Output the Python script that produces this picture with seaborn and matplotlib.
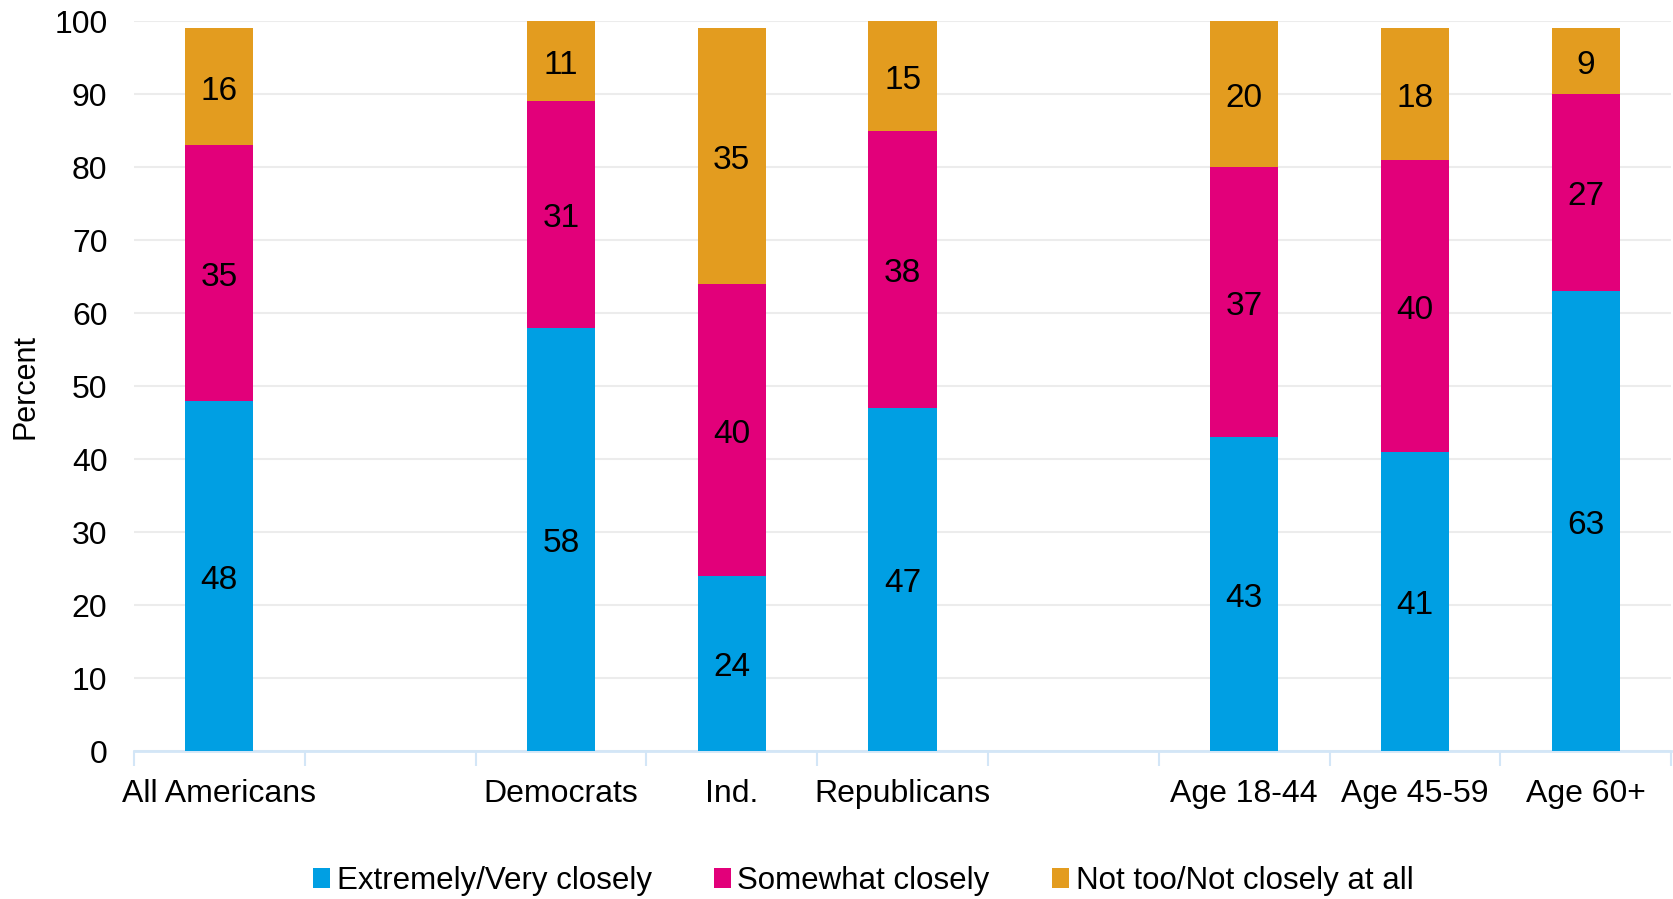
import matplotlib
matplotlib.use("Agg")
import matplotlib.pyplot as plt
import seaborn as sns
import pandas as pd
import numpy as np
from matplotlib.patches import Patch

# Veri
groups = ["All Americans", "gap1", "Democrats", "Ind.", "Republicans", "gap2",
          "Age 18-44", "Age 45-59", "Age 60+"]
shown = ["All Americans", "Democrats", "Ind.", "Republicans",
         "Age 18-44", "Age 45-59", "Age 60+"]
very_closely = [48, 58, 24, 47, 43, 41, 63]
somewhat = [35, 31, 40, 38, 37, 40, 27]
not_closely = [16, 11, 35, 15, 20, 18, 9]
series_names = ["Extremely/Very closely", "Somewhat closely", "Not too/Not closely at all"]
colors = ["#009FE3", "#E2007A", "#E39C1F"]

sns.set_style("white")
plt.rcParams["font.family"] = ["Liberation Sans", "DejaVu Sans"]
plt.rcParams["text.color"] = "black"
plt.rcParams["axes.labelcolor"] = "black"
plt.rcParams["xtick.color"] = "black"
plt.rcParams["ytick.color"] = "black"

df = pd.DataFrame({"group": shown, "v1": very_closely, "v2": somewhat, "v3": not_closely})
df["c1"] = df["v1"]
df["c2"] = df["v1"] + df["v2"]
df["c3"] = df["c2"] + df["v3"]

fig = plt.figure(figsize=(16.73, 8.99), dpi=100)
ax = fig.add_axes([0.080, 0.1646, 0.919, 0.812])

# Yığılmış çubuklar: en uzundan başla
for col, color in zip(["c3", "c2", "c1"], colors[::-1]):
    sns.barplot(data=df, x="group", y=col, order=groups, color=color,
                saturation=1, width=0.4, errorbar=None, ax=ax, zorder=3,
                edgecolor="none", linewidth=0)

# Etiketler
pos = {g: i for i, g in enumerate(groups)}
for _, r in df.iterrows():
    x = pos[r["group"]]
    bottoms = [0, r["c1"], r["c2"]]
    for val, b in zip([r["v1"], r["v2"], r["v3"]], bottoms):
        ax.text(x, b + val / 2 - 0.6, f"{val}", ha="center", va="center",
                fontsize=24, color="black", zorder=4)

ax.set_ylim(0, 100)
ax.set_xlim(-0.5, len(groups) - 0.5)
ax.set_yticks(np.arange(0, 101, 10))
ax.yaxis.grid(True, color="#ececec", linewidth=1.5, zorder=0)
ax.tick_params(axis="y", length=0, pad=19, labelsize=23, labelcolor="black")

ax.set_xticks([pos[g] for g in shown])
ax.set_xticklabels(shown)
ax.tick_params(axis="x", which="major", length=0, pad=20, labelsize=23, labelcolor="black")
ax.set_xticks(np.arange(-0.5, len(groups), 1), minor=True)
ax.tick_params(axis="x", which="minor", bottom=True, length=11, width=1.5, color="#d3e6f7")

for s in ["top", "right", "left"]:
    ax.spines[s].set_visible(False)
ax.spines["bottom"].set_color("#d3e6f7")
ax.spines["bottom"].set_linewidth(2)

ax.set_xlabel("")
ax.set_ylabel("Percent", fontsize=22, labelpad=10, color="black")

handles = [Patch(facecolor=c, edgecolor="none", label=n) for c, n in zip(colors, series_names)]
leg = fig.legend(handles=handles, loc="center", bbox_to_anchor=(0.516, 0.02), ncol=3,
                 frameon=False, fontsize=22.5, handlelength=0.55, handleheight=0.6,
                 handletextpad=0.2, columnspacing=2.0)
for t in leg.get_texts():
    t.set_color("black")

fig.savefig("out.png", dpi=100)
